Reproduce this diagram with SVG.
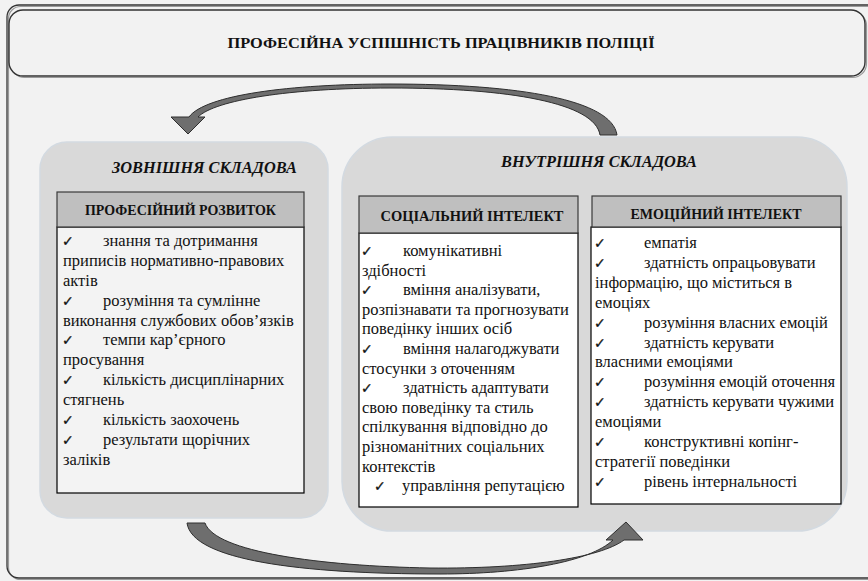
<svg xmlns="http://www.w3.org/2000/svg" width="868" height="581" viewBox="0 0 868 581">
<style>
.t{font-family:'Liberation Serif','DejaVu Serif',serif;font-size:16.5px;fill:#111}
.h{font-family:'Liberation Serif','DejaVu Serif',serif;font-size:14px;font-weight:bold;fill:#111}
.ti{font-family:'Liberation Serif','DejaVu Serif',serif;font-size:16.5px;font-weight:bold;font-style:italic;fill:#111}
.ck{font-family:'DejaVu Sans',sans-serif;font-size:14px;fill:#111;stroke:#111;stroke-width:0.3}
.panel{fill:#d9d9d9;stroke:#d3dae1;stroke-width:1.5}
.hdr{fill:#bfbfbf;stroke:#3a3a3a;stroke-width:1.2}
.body{stroke:#000;stroke-width:1.2}
.arrow{fill:#6e6e6e;stroke:#2e2e2e;stroke-width:1}
</style>
<rect x="0" y="0" width="868" height="581" fill="#f2f2f2"/>
<g id="frame">
<rect x="8.5" y="6.5" width="875" height="573" rx="12" fill="none" stroke="#9a9a9a" stroke-width="1.2"/>
<rect x="7" y="5" width="875" height="573" rx="12" fill="none" stroke="#333" stroke-width="1.3"/>
</g>
<g id="title">
<rect x="10.5" y="11.5" width="856" height="66" rx="14" fill="none" stroke="#9a9a9a" stroke-width="1.2"/>
<rect x="9" y="10" width="856" height="66" rx="14" fill="#f2f2f2" stroke="#333" stroke-width="1.4"/>
<text class="h" x="441" y="48" text-anchor="middle" textLength="427" lengthAdjust="spacingAndGlyphs">ПРОФЕСІЙНА УСПІШНІСТЬ ПРАЦІВНИКІВ ПОЛІЦІЇ</text>
</g>
<g id="external">
<rect class="panel" x="40" y="142" width="288" height="376" rx="27"/>
<text class="ti" x="204.5" y="173" text-anchor="middle" textLength="185" lengthAdjust="spacingAndGlyphs">ЗОВНІШНЯ СКЛАДОВА</text>
</g>
<g id="internal">
<rect class="panel" x="342" y="137" width="505" height="394" rx="50"/>
<text class="ti" x="599" y="167" text-anchor="middle" textLength="196" lengthAdjust="spacingAndGlyphs">ВНУТРІШНЯ СКЛАДОВА</text>
</g>
<g id="prof-dev">
<rect class="body" x="57" y="227" width="247" height="266" fill="#f3f3f3"/>
<rect class="hdr" x="57" y="192" width="247" height="35"/>
<text class="h" x="180.5" y="215" text-anchor="middle" textLength="191" lengthAdjust="spacingAndGlyphs">ПРОФЕСІЙНИЙ РОЗВИТОК</text>
<text class="ck" x="62" y="246">✓</text><text class="t" x="103" y="246">знання та дотримання</text>
<text class="t" x="63" y="266">приписів нормативно-правових</text>
<text class="t" x="63" y="286">актів</text>
<text class="ck" x="62" y="306">✓</text><text class="t" x="103" y="306">розуміння та сумлінне</text>
<text class="t" x="63" y="326">виконання службових обов’язків</text>
<text class="ck" x="62" y="345">✓</text><text class="t" x="103" y="345">темпи кар’єрного</text>
<text class="t" x="63" y="365">просування</text>
<text class="ck" x="62" y="385">✓</text><text class="t" x="103" y="385">кількість дисциплінарних</text>
<text class="t" x="63" y="405">стягнень</text>
<text class="ck" x="62" y="425">✓</text><text class="t" x="103" y="425">кількість заохочень</text>
<text class="ck" x="62" y="445">✓</text><text class="t" x="103" y="445">результати щорічних</text>
<text class="t" x="63" y="465">заліків</text>
</g>
<g id="social">
<rect class="body" x="359" y="233" width="219" height="274" fill="#fff"/>
<rect class="hdr" x="359" y="196" width="219" height="37"/>
<text class="h" x="472" y="221" text-anchor="middle" textLength="183" lengthAdjust="spacingAndGlyphs">СОЦІАЛЬНИЙ ІНТЕЛЕКТ</text>
<text class="ck" x="361" y="256">✓</text><text class="t" x="403" y="256">комунікативні</text>
<text class="t" x="362" y="275.6">здібності</text>
<text class="ck" x="361" y="295.2">✓</text><text class="t" x="403" y="295.2">вміння аналізувати,</text>
<text class="t" x="362" y="314.8">розпізнавати та прогнозувати</text>
<text class="t" x="362" y="334.4">поведінку інших осіб</text>
<text class="ck" x="361" y="354">✓</text><text class="t" x="403" y="354">вміння налагоджувати</text>
<text class="t" x="362" y="373.6">стосунки з оточенням</text>
<text class="ck" x="361" y="393.2">✓</text><text class="t" x="403" y="393.2">здатність адаптувати</text>
<text class="t" x="362" y="412.8">свою поведінку та стиль</text>
<text class="t" x="362" y="432.4">спілкування відповідно до</text>
<text class="t" x="362" y="452">різноманітних соціальних</text>
<text class="t" x="362" y="471.6">контекстів</text>
<text class="ck" x="374" y="491.2">✓</text><text class="t" x="402" y="491.2">управління репутацією</text>
</g>
<g id="emotional">
<rect class="body" x="591" y="227" width="250" height="277" fill="#fff"/>
<rect class="hdr" x="592" y="196" width="249" height="31"/>
<text class="h" x="716" y="219" text-anchor="middle" textLength="171" lengthAdjust="spacingAndGlyphs">ЕМОЦІЙНИЙ ІНТЕЛЕКТ</text>
<text class="ck" x="594" y="248">✓</text><text class="t" x="644" y="248">емпатія</text>
<text class="ck" x="594" y="267.9">✓</text><text class="t" x="644" y="267.9">здатність опрацьовувати</text>
<text class="t" x="595" y="287.8">інформацію, що міститься в</text>
<text class="t" x="595" y="307.7">емоціях</text>
<text class="ck" x="594" y="327.6">✓</text><text class="t" x="644" y="327.6">розуміння власних емоцій</text>
<text class="ck" x="594" y="347.5">✓</text><text class="t" x="644" y="347.5">здатність керувати</text>
<text class="t" x="595" y="367.4">власними емоціями</text>
<text class="ck" x="594" y="387.3">✓</text><text class="t" x="644" y="387.3">розуміння емоцій оточення</text>
<text class="ck" x="594" y="407.2">✓</text><text class="t" x="644" y="407.2">здатність керувати чужими</text>
<text class="t" x="595" y="427.1">емоціями</text>
<text class="ck" x="594" y="447">✓</text><text class="t" x="644" y="447">конструктивні копінг-</text>
<text class="t" x="595" y="466.9">стратегії поведінки</text>
<text class="ck" x="594" y="486.8">✓</text><text class="t" x="644" y="486.8">рівень інтернальності</text>
</g>
<g id="connectors">
<path class="arrow" d="M600,135 L617,135 C612,100 520,84 390,84 C290,84 205,95 189,117 L171,117 L188,134 L205,117 L198,117 C215,100 290,88 390,88 C510,88 595,103 600,135 Z"/>
<path class="arrow" d="M187,523 L205,523 C215,552 320,566 430,568 C525,569 600,558 624,540 L643,540 L626,522 L606,540 L613,540 C590,562 520,574 440,574 C300,574 192,560 187,523 Z"/>
</g>
</svg>
